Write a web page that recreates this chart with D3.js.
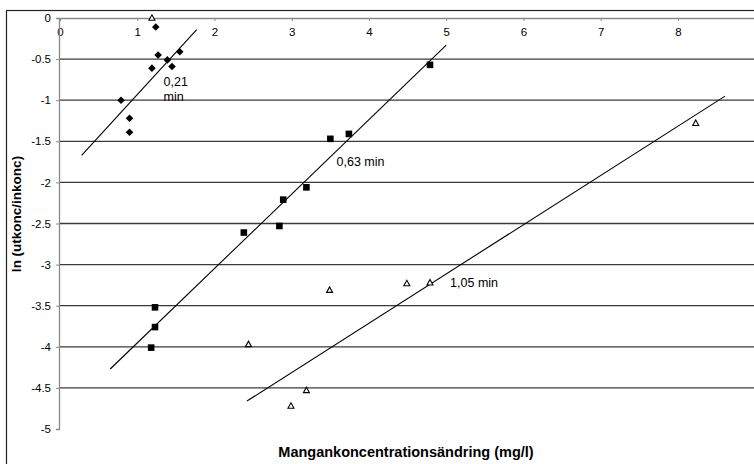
<!DOCTYPE html>
<html>
<head>
<meta charset="utf-8">
<script src="https://cdn.jsdelivr.net/npm/d3@7"></script>
<style>
  body { margin: 0; background: #fff; }
  #plot { width: 754px; height: 464px; }
  text { font-family: Arial, "Liberation Sans", sans-serif; fill: #000; }
</style>
</head>
<body>
<div id="plot"></div>
<script>
// values
const xTicks = [0, 1, 2, 3, 4, 5, 6, 7, 8];
const yTicks = [0, -0.5, -1, -1.5, -2, -2.5, -3, -3.5, -4, -4.5, -5];

// 0,21 min (diamonds)
const s021x = [0.79, 0.90, 0.90, 1.19, 1.24, 1.27, 1.39, 1.45, 1.55];
const s021y = [-1.00, -1.22, -1.39, -0.61, -0.11, -0.45, -0.51, -0.59, -0.41];
// 0,63 min (squares)
const s063x = [1.18, 1.23, 1.23, 2.38, 2.84, 2.89, 3.19, 3.50, 3.74, 4.79];
const s063y = [-4.01, -3.76, -3.52, -2.61, -2.53, -2.21, -2.06, -1.47, -1.41, -0.57];
// 1,05 min (open triangles)
const s105x = [1.19, 2.44, 2.99, 3.19, 3.49, 4.49, 4.79, 8.23];
const s105y = [0.00, -3.97, -4.72, -4.53, -3.31, -3.23, -3.22, -1.28];

// trend line end points
const trend021 = [[0.28, -1.67], [1.77, -0.14]];
const trend063 = [[0.65, -4.27], [5.00, -0.33]];
const trend105 = [[2.42, -4.66], [8.61, -0.95]];

const labels = [
  { lines: ["0,21", "min"], x: 1.34, y: -0.83 },
  { lines: ["0,63 min"], x: 3.58, y: -1.80 },
  { lines: ["1,05 min"], x: 5.05, y: -3.27 }
];

function drawChart() {
    const width = 754, height = 464;
    const svg = d3.select("#plot").append("svg")
        .attr("width", width)
        .attr("height", height);

    // outer frame of the chart
    svg.append("rect")
        .attr("x", 6.5).attr("y", 10.5)
        .attr("width", width + 10).attr("height", height + 10)
        .attr("fill", "none")
        .attr("stroke", "#222")
        .attr("stroke-width", 1.2);

    const x = d3.scaleLinear().domain([0, 9]).range([60, 755.2]);
    const y = d3.scaleLinear().domain([0, -5]).range([18, 429]);

    // horizontal gridlines
    svg.append("g")
        .selectAll("line")
        .data(yTicks.filter(d => d < 0 && d > -5))
        .enter()
        .append("line")
        .attr("x1", x(0)).attr("x2", width)
        .attr("y1", d => y(d)).attr("y2", d => y(d))
        .attr("stroke", "#3a3a3a")
        .attr("stroke-width", 1.3);

    // x axis sits on y = 0, labels below the line
    const xAxis = svg.append("g")
        .attr("transform", `translate(0,${y(0)})`)
        .call(d3.axisBottom(x).tickValues(xTicks).tickSize(3).tickPadding(7).tickFormat(d3.format("d")));
    xAxis.select(".domain").attr("stroke", "#888").attr("stroke-width", 1.3);
    xAxis.selectAll(".tick line").attr("stroke", "#888");
    xAxis.selectAll("text").style("font-size", "11.5px");

    // y axis
    const yAxis = svg.append("g")
        .attr("transform", `translate(${x(0) - 1},0)`)
        .call(d3.axisLeft(y).tickValues(yTicks).tickSize(3).tickPadding(5).tickFormat(d => d === 0 ? "0" : String(d)));
    yAxis.select(".domain").attr("stroke", "#888").attr("stroke-width", 1.3);
    yAxis.selectAll(".tick line").attr("stroke", "#888");
    yAxis.selectAll("text").style("font-size", "11.5px");

    // trend lines
    const line = d3.line().x(d => x(d[0])).y(d => y(d[1]));
    [trend021, trend063, trend105].forEach(t => {
        svg.append("path")
            .datum(t)
            .attr("d", line)
            .attr("fill", "none")
            .attr("stroke", "#000")
            .attr("stroke-width", 1.1);
    });

    // diamonds
    svg.append("g")
        .selectAll("path")
        .data(s021x.map((d, i) => [d, s021y[i]]))
        .enter()
        .append("path")
        .attr("transform", d => `translate(${x(d[0])},${y(d[1])})`)
        .attr("d", "M0,-3.8L3.8,0L0,3.8L-3.8,0Z")
        .attr("fill", "#000");

    // squares
    svg.append("g")
        .selectAll("rect")
        .data(s063x.map((d, i) => [d, s063y[i]]))
        .enter()
        .append("rect")
        .attr("x", d => x(d[0]) - 3.3)
        .attr("y", d => y(d[1]) - 3.3)
        .attr("width", 6.6).attr("height", 6.6)
        .attr("fill", "#000");

    // open triangles
    svg.append("g")
        .selectAll("path")
        .data(s105x.map((d, i) => [d, s105y[i]]))
        .enter()
        .append("path")
        .attr("transform", d => `translate(${x(d[0])},${y(d[1])})`)
        .attr("d", "M0,-3.2L3,2.3L-3,2.3Z")
        .attr("fill", "#fff")
        .attr("stroke", "#000")
        .attr("stroke-width", 1.1);

    // series labels
    labels.forEach(l => {
        const t = svg.append("text")
            .attr("x", x(l.x))
            .attr("y", y(l.y))
            .style("font-size", "12.5px");
        l.lines.forEach((s, i) => {
            t.append("tspan").attr("x", x(l.x)).attr("dy", i === 0 ? 0 : 15).text(s);
        });
    });

    // axis titles
    svg.append("text")
        .attr("x", 406).attr("y", 457)
        .attr("text-anchor", "middle")
        .style("font-size", "14.5px")
        .style("font-weight", "bold")
        .text("Mangankoncentrationsändring (mg/l)");

    svg.append("text")
        .attr("transform", "translate(21,214) rotate(-90)")
        .attr("text-anchor", "middle")
        .style("font-size", "13.5px")
        .style("font-weight", "bold")
        .text("ln (utkonc/inkonc)");
}

drawChart();
</script>
</body>
</html>
